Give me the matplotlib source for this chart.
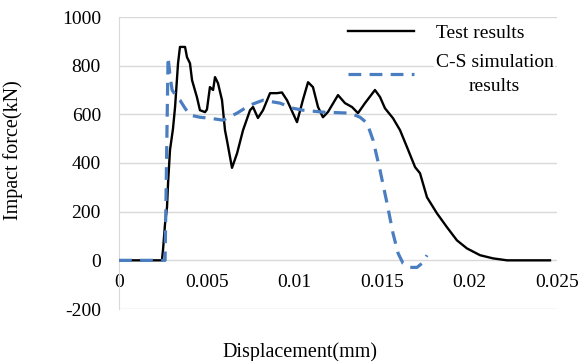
import matplotlib
matplotlib.use("Agg")
import matplotlib.pyplot as plt

plt.rcParams['font.family'] = ['Liberation Serif', 'DejaVu Serif']
plt.rcParams['axes.unicode_minus'] = False

# Measured impact force vs displacement
test_x = [0.0, 0.00245, 0.00251, 0.00263, 0.00274, 0.00280, 0.00291, 0.00308, 0.00320,
          0.00337, 0.00348, 0.00377, 0.00388, 0.00405, 0.00417, 0.00445, 0.00462, 0.00491,
          0.00502, 0.00519, 0.00537, 0.00548, 0.00565, 0.00588, 0.00605, 0.00616, 0.00645,
          0.00674, 0.00708, 0.00748, 0.00765, 0.00793, 0.00822, 0.00862, 0.00902, 0.00930,
          0.00959, 0.01016, 0.01050, 0.01079, 0.01107, 0.01136, 0.01164, 0.01193, 0.01250,
          0.01290, 0.01330, 0.01364, 0.01404, 0.01461, 0.01490, 0.01518, 0.01564, 0.01604,
          0.01644, 0.01690, 0.01718, 0.01758, 0.01815, 0.01872, 0.01929, 0.01986, 0.02061,
          0.02135, 0.02215, 0.02289, 0.02460]
test_y = [0, 0, 41, 152, 218, 317, 453, 540, 630,
          810, 877, 877, 835, 810, 740, 670, 617, 609,
          620, 712, 700, 753, 728, 658, 535, 494, 380,
          440, 535, 617, 630, 585, 617, 687, 687, 690,
          658, 568, 660, 732, 712, 630, 588, 610, 679,
          646, 630, 605, 646, 700, 671, 625, 584, 535,
          465, 383, 358, 259, 193, 136, 82, 49, 21,
          8, 0, 0, 0]

# C-S model simulation
sim_x = [0.0, 0.00263, 0.00280, 0.00291, 0.00303, 0.00331, 0.00348, 0.00377, 0.00405,
         0.00462, 0.00519, 0.00594, 0.00674, 0.00748, 0.00822, 0.00919, 0.00993, 0.01050,
         0.01164, 0.01319, 0.01376, 0.01416, 0.01450, 0.01490, 0.01530, 0.01564, 0.01593,
         0.01621, 0.01661, 0.01701, 0.01730, 0.01758]
sim_y = [0, 0, 835, 760, 700, 670, 658, 625, 597,
         588, 584, 576, 605, 638, 658, 646, 625, 617,
         609, 605, 588, 564, 494, 370, 234, 111, 29,
         -12, -29, -29, -12, 21]

x_ticks = [0, 0.005, 0.01, 0.015, 0.02, 0.025]
x_tick_labels = ["0", "0.005", "0.01", "0.015", "0.02", "0.025"]
y_ticks = [-200, 0, 200, 400, 600, 800, 1000]

fig = plt.figure(figsize=(5.83, 3.61), dpi=100)
ax = fig.add_axes([119/583, 52/361, 438/583, 292/361])

ax.plot(test_x, test_y, color='black', lw=1.7, label='Test results', zorder=3)
ax.plot(sim_x, sim_y, color='#4A7EC0', lw=2.3, linestyle=(0, (4, 2.6)),
        label='C-S simulation\nresults', zorder=3)

ax.set_xlim(0, 0.025)
ax.set_ylim(-200, 1000)
ax.set_xticks(x_ticks)
ax.set_xticklabels(x_tick_labels)
ax.set_yticks(y_ticks)
ax.tick_params(length=0, labelsize=14)
ax.tick_params(axis='y', pad=13)
ax.tick_params(axis='x', pad=10)

ax.grid(axis='y', color='#d9d9d9', lw=1)
ax.set_axisbelow(True)
for s in ['top', 'right']:
    ax.spines[s].set_visible(False)
ax.spines['bottom'].set_position(('data', 0))
ax.spines['bottom'].set_visible(False)
ax.spines['left'].set_color('#d9d9d9')

ax.set_xlabel('Displacement(mm)', fontsize=14.5)
ax.xaxis.set_label_coords(0.413, -0.115)
ax.set_ylabel('Impact force(kN)', fontsize=14.5)
ax.yaxis.set_label_coords(-0.22, 0.545)

leg = ax.legend(loc='upper left', bbox_to_anchor=(348/583, 1 - 24/361),
                bbox_transform=fig.transFigure, frameon=False, fontsize=14,
                handlelength=3.4, handletextpad=1.1, labelspacing=0.65,
                borderpad=0, borderaxespad=0)
for t in leg.get_texts():
    t.set_multialignment('center')
    t.set_linespacing(1.5)
    t.set_bbox(dict(facecolor='white', edgecolor='none', pad=1))

fig.savefig('out.png', dpi=100)
